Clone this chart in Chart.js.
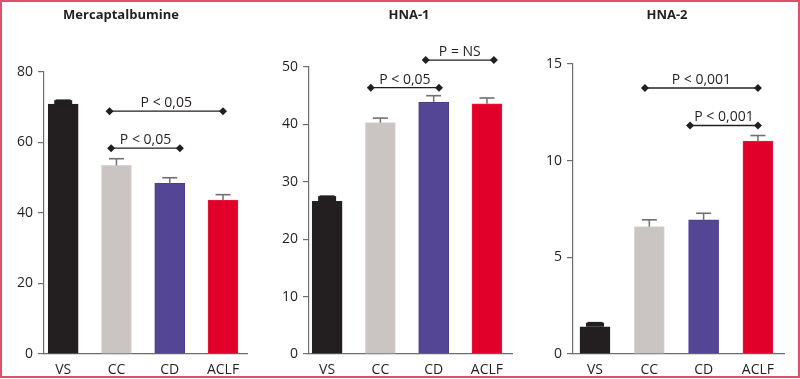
<!DOCTYPE html>
<html>
<head>
<meta charset="utf-8">
<script src="https://cdn.jsdelivr.net/npm/chart.js@4.4.1/dist/chart.umd.min.js"></script>
<style>
  html, body { margin: 0; padding: 0; background: #fff; }
  #frame { position: absolute; left: 0; top: 0; width: 800px; height: 378px; box-sizing: border-box; border: 2px solid #e0506a; }
  .panel { position: absolute; top: 0; height: 379px; }
</style>
</head>
<body>
<div id="frame"></div>
<div class="panel" style="left:0;width:265px"><canvas id="c1"></canvas></div>
<div class="panel" style="left:265px;width:265px"><canvas id="c2"></canvas></div>
<div class="panel" style="left:530px;width:270px"><canvas id="c3"></canvas></div>
<script>
// ---- data ----
const categories = ['VS', 'CC', 'CD', 'ACLF'];

const mercaptTitle = 'Mercaptalbumine';
const mercaptValues = [70.9, 53.5, 48.4, 43.7];
const mercaptErrors = [1.1, 1.9, 1.6, 1.5];
const mercaptTicks = [0, 20, 40, 60, 80];
const mercaptBrackets = [
  { from: 0.87, to: 3.0, y: 68.9, label: 'P < 0,05' },
  { from: 0.90, to: 2.19, y: 58.4, label: 'P < 0,05' }
];

const hna1Title = 'HNA-1';
const hna1Values = [26.6, 40.3, 43.9, 43.6];
const hna1Errors = [0.9, 0.8, 1.1, 1.0];
const hna1Ticks = [0, 10, 20, 30, 40, 50];
const hna1Brackets = [
  { from: 0.82, to: 2.10, y: 46.4, label: 'P < 0,05' },
  { from: 1.85, to: 3.13, y: 51.2, label: 'P = NS' }
];

const hna2Title = 'HNA-2';
const hna2Values = [1.41, 6.59, 6.94, 11.01];
const hna2Errors = [0.21, 0.35, 0.34, 0.29];
const hna2Ticks = [0, 5, 10, 15];
const hna2Brackets = [
  { from: 0.92, to: 3.0, y: 13.76, label: 'P < 0,001' },
  { from: 1.75, to: 3.0, y: 11.82, label: 'P < 0,001' }
];

// ---- styles ----
const barColors = ['#231f20', '#cac5c2', '#544595', '#e0002a'];
const barBorders = ['#231f20', '#d8d4d1', '#4c3e8c', '#e3203f'];
const errColors = ['#231f20', '#707070', '#707070', '#707070'];
const errStemWidths = [18, 1.5, 1.5, 1.5];
const FONT = '"Open Sans", "DejaVu Sans", sans-serif';
const TEXT = '#231f20';
const AXIS = '#6d6e71';

const extrasPlugin = {
  id: 'extras',
  afterDatasetsDraw(chart, args, opts) {
    const ctx = chart.ctx;
    const ys = chart.scales.y;
    const meta = chart.getDatasetMeta(0);
    const ds = chart.data.datasets[0];
    meta.data.forEach((bar, i) => {
      const v = ds.data[i].y;
      const e = opts.errors[i];
      const yTop = ys.getPixelForValue(v + e);
      const yBar = ys.getPixelForValue(v);
      ctx.save();
      ctx.strokeStyle = errColors[i];
      ctx.lineWidth = errStemWidths[i];
      ctx.beginPath();
      ctx.moveTo(bar.x, yBar);
      ctx.lineTo(bar.x, yTop);
      ctx.stroke();
      ctx.lineWidth = 1.6;
      ctx.beginPath();
      ctx.moveTo(bar.x - 7.5, yTop);
      ctx.lineTo(bar.x + 7.5, yTop);
      ctx.stroke();
      ctx.restore();
    });
  },
  afterDraw(chart, args, opts) {
    const ctx = chart.ctx;
    const xs = chart.scales.x, ys = chart.scales.y;
    ctx.save();
    ctx.fillStyle = TEXT;
    ctx.font = 'bold 13px ' + FONT;
    ctx.textAlign = 'center';
    ctx.textBaseline = 'middle';
    ctx.fillText(opts.title, opts.titleX, 15);
    opts.brackets.forEach(b => {
      const x1 = xs.getPixelForValue(b.from);
      const x2 = xs.getPixelForValue(b.to);
      const y = ys.getPixelForValue(b.y);
      ctx.strokeStyle = TEXT;
      ctx.lineWidth = 1.4;
      ctx.beginPath();
      ctx.moveTo(x1, y);
      ctx.lineTo(x2, y);
      ctx.stroke();
      [x1, x2].forEach(x => {
        ctx.beginPath();
        ctx.moveTo(x - 4, y);
        ctx.lineTo(x, y - 4);
        ctx.lineTo(x + 4, y);
        ctx.lineTo(x, y + 4);
        ctx.closePath();
        ctx.fillStyle = TEXT;
        ctx.fill();
      });
      ctx.font = '14px ' + FONT;
      ctx.textAlign = 'center';
      ctx.textBaseline = 'alphabetic';
      ctx.fillText(b.label, (x1 + x2) / 2, y - 4);
    });
    ctx.restore();
  }
};

function makeChart(id, cfg) {
  return new Chart(document.getElementById(id), {
    type: 'bar',
    data: {
      datasets: [{
        data: cfg.values.map((v, i) => ({ x: i, y: v })),
        backgroundColor: barColors,
        borderColor: barBorders,
        borderWidth: 1,
        barThickness: 30
      }]
    },
    plugins: [extrasPlugin],
    options: {
      responsive: true,
      maintainAspectRatio: false,
      animation: false,
      events: [],
      layout: { padding: { top: cfg.padTop, right: cfg.padRight, left: 0, bottom: 0 } },
      plugins: {
        legend: { display: false },
        tooltip: { enabled: false },
        title: { display: false },
        extras: { errors: cfg.errors, brackets: cfg.brackets, title: cfg.title, titleX: cfg.titleX }
      },
      scales: {
        x: {
          type: 'linear',
          offset: false,
          min: cfg.xMin,
          max: cfg.xMax,
          afterBuildTicks: s => { s.ticks = categories.map((c, i) => ({ value: i })); },
          afterFit: s => { s.height = 25; },
          ticks: {
            callback: v => categories[v],
            color: TEXT,
            font: { family: FONT, size: 14 },
            padding: 0,
            maxRotation: 0,
            autoSkip: false
          },
          grid: { display: false, offset: false },
          border: { display: true, color: AXIS, width: 1.2 }
        },
        y: {
          min: 0,
          max: cfg.yMax,
          afterBuildTicks: s => { s.ticks = cfg.ticks.map(v => ({ value: v })); },
          afterFit: s => { s.width = cfg.axisX; },
          ticks: {
            color: TEXT,
            font: { family: FONT, size: 14 },
            padding: 5
          },
          grid: { drawOnChartArea: false, drawTicks: true, tickLength: 6, color: AXIS, lineWidth: 1.2 },
          border: { display: true, color: AXIS, width: 1.2 }
        }
      }
    }
  });
}

makeChart('c1', { values: mercaptValues, errors: mercaptErrors, ticks: mercaptTicks, brackets: mercaptBrackets,
  title: mercaptTitle, titleX: 121, yMax: 80, padTop: 72, padRight: 18, axisX: 44, xMin: -0.36, xMax: 3.45 });
makeChart('c2', { values: hna1Values, errors: hna1Errors, ticks: hna1Ticks, brackets: hna1Brackets,
  title: hna1Title, titleX: 144, yMax: 50, padTop: 67, padRight: 18, axisX: 44, xMin: -0.34, xMax: 3.47 });
makeChart('c3', { values: hna2Values, errors: hna2Errors, ticks: hna2Ticks, brackets: hna2Brackets,
  title: hna2Title, titleX: 137, yMax: 15, padTop: 64, padRight: 16, axisX: 43, xMin: -0.405, xMax: 3.48 });
</script>
</body>
</html>
